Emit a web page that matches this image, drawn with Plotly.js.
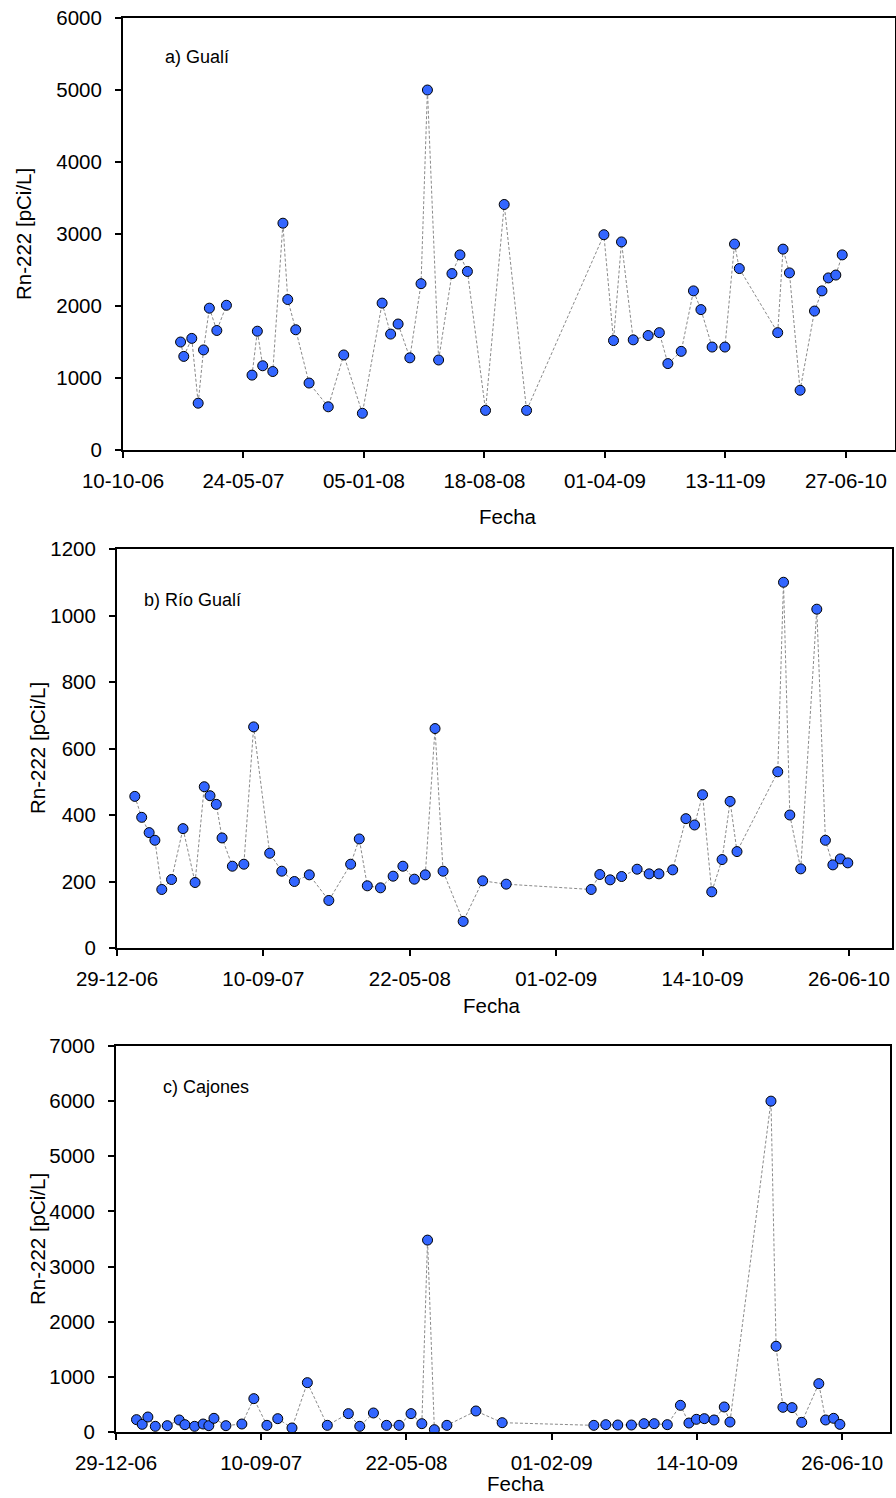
<!DOCTYPE html>
<html>
<head>
<meta charset="utf-8">
<script src="https://cdn.plot.ly/plotly-3.0.1.min.js"></script>
<style>
  html, body { margin: 0; padding: 0; background: #fff; }
  #chart { width: 896px; height: 1498px; }
</style>
</head>
<body>
<div id="chart"></div>
<script>
// Rn-222 en agua: tres puntos de muestreo

// a) Gualí  (null = muestra faltante, corta la línea)
const fechaGuali = ['2007-01-26','2007-02-01','2007-02-16','2007-02-28','2007-03-10','2007-03-21','2007-04-04','2007-04-22','2007-05-16',
  '2007-06-09','2007-06-19','2007-06-29','2007-07-18','2007-08-06','2007-08-15','2007-08-30','2007-09-24','2007-10-30','2007-11-28',
  '2008-01-02','2008-02-08','2008-02-24','2008-03-09','2008-03-31','2008-04-21','2008-05-03','2008-05-24','2008-06-18','2008-07-03',
  '2008-07-17','2008-08-20','2008-09-24','2008-11-05','2009-03-30','2009-04-17','2009-05-02','2009-05-24','2009-06-21','2009-07-12',
  '2009-07-28','2009-08-22','2009-09-14','2009-09-28','2009-10-19','2009-11-12','2009-11-30','2009-12-09','2010-02-19','2010-03-01',
  '2010-03-13','2010-04-02','2010-04-29','2010-05-13','2010-05-25','2010-06-08','2010-06-20'];
const rnGuali = [1500,1300,1550,650,1390,1970,1660,2010,null,
  1040,1650,1170,1090,3150,2090,1670,930,600,1320,
  510,2040,1610,1750,1280,2310,5000,1250,2450,2710,
  2480,550,3410,550,2990,1520,2890,1530,1590,1630,
  1200,1370,2210,1950,1430,1430,2860,2520,1630,2790,
  2460,830,1930,2210,2390,2430,2710];

// b) Río Gualí
const fechaRio = ['2007-01-29','2007-02-10','2007-02-23','2007-03-05','2007-03-17','2007-04-03','2007-04-23','2007-05-14','2007-05-30',
  '2007-06-09','2007-06-20','2007-06-30','2007-07-18','2007-08-07','2007-08-24','2007-09-21','2007-10-12','2007-11-03','2007-11-29',
  '2008-01-02','2008-02-09','2008-02-24','2008-03-09','2008-04-01','2008-04-23','2008-05-10','2008-05-30','2008-06-18','2008-07-05',
  '2008-07-19','2008-08-23','2008-09-26','2008-11-06','2009-04-03','2009-04-18','2009-05-06','2009-05-26','2009-06-22','2009-07-13',
  '2009-07-30','2009-08-23','2009-09-15','2009-09-30','2009-10-14','2009-10-30','2009-11-17','2009-12-01','2009-12-13','2010-02-22',
  '2010-03-04','2010-03-15','2010-04-03','2010-05-01','2010-05-16','2010-05-29','2010-06-11','2010-06-24'];
const rnRio = [456,393,347,324,176,206,359,197,485,
  458,432,331,246,252,665,285,231,200,220,
  143,252,328,187,181,216,246,207,220,660,
  231,80,202,192,176,221,205,215,237,223,
  223,235,389,370,461,169,266,441,290,530,
  1100,400,238,1019,324,250,268,256];

// c) Cajones
const fechaCajones = ['2007-02-03','2007-02-13','2007-02-23','2007-03-08','2007-03-29','2007-04-19','2007-04-29','2007-05-16','2007-05-31',
  '2007-06-10','2007-06-19','2007-07-10','2007-08-07','2007-08-28','2007-09-20','2007-10-09','2007-11-03','2007-11-30',
  '2008-01-04','2008-02-10','2008-03-01','2008-03-25','2008-04-17','2008-05-09','2008-05-30','2008-06-18','2008-06-28',
  '2008-07-10','2008-08-01','2008-09-21','2008-11-06','2009-04-16','2009-05-07','2009-05-28','2009-06-21','2009-07-13',
  '2009-07-31','2009-08-23','2009-09-15','2009-09-30','2009-10-13','2009-10-27','2009-11-13','2009-12-01','2009-12-11',
  '2010-02-21','2010-03-02','2010-03-14','2010-03-30','2010-04-16','2010-05-16','2010-05-28','2010-06-11','2010-06-22'];
const rnCajones = [224,139,272,103,115,218,133,103,145,
  115,248,115,145,605,121,242,73,895,
  121,333,103,345,121,121,333,151,3480,
  42,121,381,169,121,133,127,127,151,
  151,133,484,163,230,242,218,454,181,
  6000,1555,448,442,175,877,218,248,139];

const etiquetas = ['a) Gualí', 'b) Río Gualí', 'c) Cajones'];
const tituloY = 'Rn-222 [pCi/L]';
const tituloX = 'Fecha';

// ---- layout helpers (page is 896 x 1498, all positions in pixels) ----
const W = 896, H = 1498;
const fx = p => p / W;
const fy = p => 1 - p / H;
const DAY = 86400000;
const FONT = '"Liberation Sans", Arial, sans-serif';
const TXT = 20.5;

function serie(x, y, ax) {
  return {
    x: x, y: y, type: 'scatter', mode: 'lines+markers',
    xaxis: 'x' + ax, yaxis: 'y' + ax,
    connectgaps: false,
    line: { color: '#8a8a8a', width: 1, dash: '3px,2px' },
    marker: { size: 10, color: '#3366ff', line: { color: '#000', width: 1 } },
    hoverinfo: 'x+y'
  };
}

function ejeX(dom, anchor, range, tick0, dias) {
  return {
    domain: dom, anchor: anchor, type: 'date', range: range,
    tick0: tick0, dtick: dias * DAY, tickformat: '%d-%m-%y',
    showline: true, mirror: true, linecolor: '#000', linewidth: 2,
    ticks: 'outside', ticklen: 6, tickwidth: 2, tickcolor: '#000',
    showgrid: false, zeroline: false, ticklabelstandoff: 5,
    tickfont: { family: FONT, size: TXT, color: '#000' }
  };
}
function ejeY(dom, anchor, max, paso) {
  return {
    domain: dom, anchor: anchor, range: [0, max], dtick: paso, tick0: 0,
    showline: true, mirror: true, linecolor: '#000', linewidth: 2,
    ticks: 'outside', ticklen: 6, tickwidth: 2, tickcolor: '#000',
    showgrid: false, zeroline: false, ticklabelstandoff: 9,
    tickfont: { family: FONT, size: TXT, color: '#000' }
  };
}

const data = [
  serie(fechaGuali, rnGuali, ''),
  serie(fechaRio, rnRio, '2'),
  serie(fechaCajones, rnCajones, '3')
];

function texto(t, x, y, opts) {
  return Object.assign({
    text: t, xref: 'paper', yref: 'paper', x: fx(x), y: fy(y),
    xanchor: 'center', yanchor: 'middle',
    showarrow: false, font: { family: FONT, size: TXT, color: '#000' }
  }, opts || {});
}
const panel = { xanchor: 'left', font: { family: FONT, size: 18, color: '#000' } };

const layout = {
  width: W, height: H,
  margin: { l: 0, r: 0, t: 0, b: 0 },
  paper_bgcolor: '#fff', plot_bgcolor: '#fff',
  showlegend: false,
  xaxis:  ejeX([fx(123), fx(895)], 'y',  ['2006-10-10', '2010-09-27'], '2006-10-10', 226),
  yaxis:  ejeY([fy(450), fy(18)],  'x',  6000, 1000),
  xaxis2: ejeX([fx(117), fx(892)], 'y2', ['2006-12-29', '2010-09-09'], '2006-12-29', 255),
  yaxis2: ejeY([fy(948), fy(549)], 'x2', 1200, 200),
  xaxis3: ejeX([fx(116), fx(890)], 'y3', ['2006-12-29', '2010-09-18'], '2006-12-29', 255),
  yaxis3: ejeY([fy(1432), fy(1046)], 'x3', 7000, 1000),
  annotations: [
    texto(etiquetas[0], 163, 57, panel),
    texto(etiquetas[1], 142, 600, panel),
    texto(etiquetas[2], 161, 1087, panel),
    texto(tituloY, 24, 234, { textangle: -90 }),
    texto(tituloY, 37, 748, { textangle: -90 }),
    texto(tituloY, 37, 1239, { textangle: -90 }),
    texto(tituloX, 508, 517),
    texto(tituloX, 492, 1005),
    texto(tituloX, 516, 1483)
  ]
};

Plotly.newPlot('chart', data, layout, { staticPlot: true, displayModeBar: false });
</script>
</body>
</html>
